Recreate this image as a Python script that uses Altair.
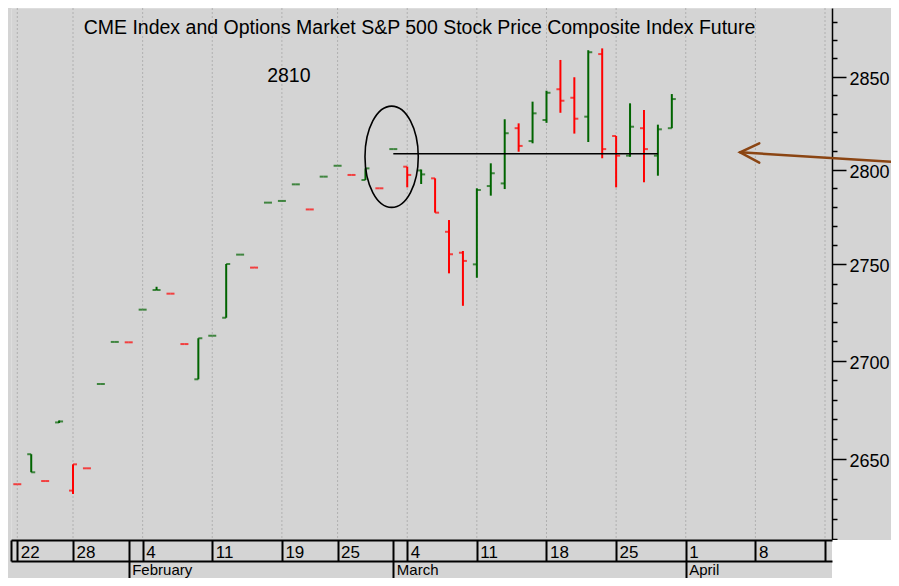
import altair as alt
import pandas as pd

# ---------------- data ----------------
trading_days = [
    "2019-01-22", "2019-01-23", "2019-01-24", "2019-01-25",
    "2019-01-28", "2019-01-29", "2019-01-30", "2019-01-31", "2019-02-01",
    "2019-02-04", "2019-02-05", "2019-02-06", "2019-02-07", "2019-02-08",
    "2019-02-11", "2019-02-12", "2019-02-13", "2019-02-14", "2019-02-15",
    "2019-02-19", "2019-02-20", "2019-02-21", "2019-02-22",
    "2019-02-25", "2019-02-26", "2019-02-27", "2019-02-28", "2019-03-01",
    "2019-03-04", "2019-03-05", "2019-03-06", "2019-03-07", "2019-03-08",
    "2019-03-11", "2019-03-12", "2019-03-13", "2019-03-14", "2019-03-15",
    "2019-03-18", "2019-03-19", "2019-03-20", "2019-03-21", "2019-03-22",
    "2019-03-25", "2019-03-26", "2019-03-27", "2019-03-28", "2019-03-29",
    "2019-04-01", "2019-04-02", "2019-04-03", "2019-04-04", "2019-04-05",
    "2019-04-08", "2019-04-09", "2019-04-10", "2019-04-11", "2019-04-12",
    "2019-04-15",
]

opens = [2637.3, 2652.4, 2638.9, 2668.5, 2634.1, 2645.3, 2688.1, 2709.7, 2709.5, 2726.4,
         2736.6, 2734.7, 2708.6, 2690.5, 2712.9, 2722.2, 2755.1, 2748.3, 2782.5, 2783.4,
         2792.2, 2778.9, 2796.3, 2802.1, 2797.2, 2794.5, 2790.1, 2811.0, 2801.6, 2799.6,
         2795.4, 2767.1, 2756.1, 2750.0, 2791.3, 2792.7, 2822.2, 2815.3, 2826.6, 2843.2,
         2838.6, 2828.4, 2862.3, 2818.0, 2807.5, 2822.2, 2807.5, 2822.2]
highs = [2637.3, 2652.4, 2638.9, 2669.5, 2647.3, 2645.3, 2688.1, 2709.7, 2709.5, 2726.4,
         2738.3, 2734.7, 2708.6, 2711.6, 2712.9, 2750.2, 2755.1, 2748.3, 2782.5, 2783.4,
         2792.2, 2778.9, 2796.3, 2802.1, 2797.2, 2800.7, 2790.1, 2811.0, 2801.6, 2800.1,
         2795.4, 2773.3, 2757.0, 2790.1, 2803.4, 2827.0, 2824.8, 2836.5, 2842.4, 2859.1,
         2849.7, 2864.4, 2865.4, 2818.0, 2835.6, 2832.0, 2824.1, 2840.6]
lows = [2637.3, 2643.3, 2638.9, 2668.2, 2632.4, 2645.3, 2688.1, 2709.7, 2709.5, 2726.4,
        2736.6, 2734.7, 2708.6, 2690.5, 2712.9, 2722.2, 2755.1, 2748.3, 2782.5, 2783.4,
        2792.2, 2778.9, 2796.3, 2802.1, 2797.2, 2794.5, 2790.1, 2811.0, 2790.6, 2792.4,
        2777.2, 2745.3, 2728.4, 2743.0, 2786.2, 2789.7, 2809.6, 2814.1, 2825.1, 2830.5,
        2819.3, 2814.8, 2806.1, 2790.6, 2806.9, 2793.3, 2796.8, 2822.2]
closes = [2637.3, 2643.3, 2638.9, 2669.0, 2647.3, 2645.3, 2688.1, 2709.7, 2709.5, 2726.4,
          2736.6, 2734.7, 2708.6, 2711.6, 2712.9, 2750.2, 2755.1, 2748.3, 2782.5, 2783.4,
          2792.2, 2778.9, 2796.3, 2802.1, 2797.2, 2800.7, 2790.1, 2811.0, 2797.2, 2797.5,
          2777.2, 2755.3, 2751.8, 2789.2, 2798.1, 2819.5, 2812.7, 2830.2, 2841.3, 2837.0,
          2827.3, 2863.3, 2811.0, 2807.5, 2823.0, 2811.0, 2821.6, 2837.9]
directions = ["down", "up", "down", "up", "down", "down", "up", "up", "down", "up",
              "up", "down", "down", "up", "up", "up", "up", "down", "up", "up",
              "up", "down", "up", "up", "down", "up", "down", "up", "down", "up",
              "down", "down", "down", "up", "up", "up", "down", "up", "up", "down",
              "down", "up", "down", "down", "up", "down", "up", "up"]

week_dates = ["2019-01-22", "2019-01-28", "2019-02-04", "2019-02-11", "2019-02-19",
              "2019-02-25", "2019-03-04", "2019-03-11", "2019-03-18", "2019-03-25",
              "2019-04-01", "2019-04-08", "2019-04-15"]
week_labels = ["22", "28", "4", "11", "19", "25", "4", "11", "18", "25", "1", "8", ""]
month_dates = ["2019-02-01", "2019-03-01", "2019-04-01"]
month_labels = ["February", "March", "April"]

title_text = "CME Index and Options Market S&P 500 Stock Price Composite Index Future"
level_value = 2808.5
level_from, level_to = "2019-03-01", "2019-03-28"
level_label = "2810"

y_major = [2650, 2700, 2750, 2800, 2850]
y_minor = [2610, 2620, 2630, 2640, 2660, 2670, 2680, 2690, 2710, 2720, 2730, 2740,
           2760, 2770, 2780, 2790, 2810, 2820, 2830, 2840, 2860, 2870, 2880]

# annotation anchors (trading-day number, price)
title_pos = (28.88, 2873.1)
label_pos = (19.5, 2847.3)
ellipse_pos = (26.88, 2806.9)
arrow_head_x = [53.28, 51.9, 53.28]
arrow_head_y = [2814.1, 2809.3, 2803.8]
arrow_shaft_x = [51.9, 63.6]
arrow_shaft_y = [2809.3, 2803.8]

# ---------------- scales ----------------
X_MIN, X_MAX = -0.4524, 58.502
Y_MIN, Y_MAX = 2609.45, 2887.51
FONT = "Liberation Sans"
BG = "#d4d4d4"

pos = {d: i for i, d in enumerate(trading_days)}


def X(field, axis=None):
    return alt.X(field, type="quantitative",
                 scale=alt.Scale(domain=[X_MIN, X_MAX], nice=False, zero=False), axis=axis)


def Y(field, axis=None):
    return alt.Y(field, type="quantitative",
                 scale=alt.Scale(type="log", domain=[Y_MIN, Y_MAX], nice=False, zero=False),
                 axis=axis)


bars = pd.DataFrame({
    "i": [pos[d] for d in trading_days[:len(opens)]],
    "open": opens, "high": highs, "low": lows, "close": closes, "dir": directions,
})
color = alt.Color("dir:N", scale=alt.Scale(domain=["up", "down"], range=["#006400", "#ff0000"]),
                  legend=None)

week_idx = [pos[d] for d in week_dates]
month_idx = [pos[d] for d in month_dates]
grid_df = pd.DataFrame({"i": week_idx})


def ternary(idxs, labels):
    expr = "''"
    for i, lab in reversed(list(zip(idxs, labels))):
        expr = f"datum.value == {i} ? '{lab}' : ({expr})"
    return expr


day_axis = alt.Axis(orient="bottom", values=[X_MIN] + week_idx + month_idx[:2],
                    labelExpr=ternary(week_idx, week_labels), grid=False, title=None,
                    domain=True, domainColor="black", domainWidth=2,
                    ticks=True, tickColor="black", tickWidth=2, tickSize=21,
                    labelAlign="left", labelBaseline="alphabetic", labelPadding=-4,
                    labelOffset=3, labelFontSize=17, labelColor="black", labelFont=FONT,
                    labelOverlap=False, labelFlush=False, labelBound=False, offset=0, zindex=1)
month_axis = alt.Axis(orient="bottom", values=month_idx,
                      labelExpr=ternary(month_idx, month_labels), grid=False, title=None,
                      domain=True, domainColor="black", domainWidth=2,
                      ticks=True, tickColor="black", tickWidth=2, tickSize=17,
                      labelAlign="left", labelBaseline="alphabetic", labelPadding=-4,
                      labelOffset=3, labelFontSize=15, labelColor="black", labelFont=FONT,
                      labelOverlap=False, labelFlush=False, labelBound=False, offset=21, zindex=1)
y_major_axis = alt.Axis(orient="right", values=y_major, labelExpr="format(datum.value, 'd')",
                        grid=False, title=None, domain=True, domainColor="black", domainWidth=1.5,
                        ticks=True, tickColor="black", tickWidth=1.5, tickSize=14,
                        labelPadding=3, labelFontSize=18, labelColor="black", labelFont=FONT,
                        labelOffset=2.5, labelOverlap=False, labelFlush=False)
y_minor_axis = alt.Axis(orient="right", values=y_minor, grid=False, title=None, domain=False,
                        ticks=True, tickColor="black", tickWidth=1.5, tickSize=5, labels=False)

# ---------------- layers ----------------
corner = alt.Chart(pd.DataFrame({"a": [X_MAX], "b": [X_MAX + 8], "c": [Y_MIN], "d": [Y_MIN * 0.95]})).mark_rect(
    color="white").encode(x=X("a"), x2="b", y=Y("c"), y2="d")

grid = alt.Chart(grid_df).mark_rule(color="#b0b0b0", strokeDash=[2, 2], strokeWidth=1).encode(
    x=X("i", day_axis))

stems = alt.Chart(bars).mark_rule(strokeWidth=2).encode(
    x=X("i", month_axis), y=Y("low", y_major_axis), y2="high", color=color)
open_ticks = alt.Chart(bars).mark_tick(orient="horizontal", size=4, thickness=2, xOffset=-2).encode(
    x=X("i"), y=Y("open", y_minor_axis), color=color)
close_ticks = alt.Chart(bars).mark_tick(orient="horizontal", size=4, thickness=2, xOffset=2).encode(
    x=X("i"), y=Y("close"), color=color)

level = alt.Chart(pd.DataFrame({"a": [pos[level_from]], "b": [pos[level_to]], "y": [level_value]})).mark_rule(
    color="black", strokeWidth=1.6).encode(x=X("a"), x2="b", y=Y("y"))

k = 0.5523
rx = 0.526
ell_path = (f"M {rx},0 C {rx},{k} {rx*k:.4f},1 0,1 C {-rx*k:.4f},1 {-rx},{k} {-rx},0 "
            f"C {-rx},{-k} {-rx*k:.4f},-1 0,-1 C {rx*k:.4f},-1 {rx},{-k} {rx},0 Z")
ellipse = alt.Chart(pd.DataFrame({"x": [ellipse_pos[0]], "y": [ellipse_pos[1]]})).mark_point(
    shape=ell_path, size=10262, filled=False, stroke="black", strokeWidth=1.6, opacity=1).encode(
    x=X("x"), y=Y("y"))

arrow_df = pd.DataFrame({
    "x": arrow_head_x + arrow_shaft_x,
    "y": arrow_head_y + arrow_shaft_y,
    "part": ["head"] * 3 + ["shaft"] * 2,
    "o": [0, 1, 2, 0, 1],
})
arrow = alt.Chart(arrow_df).mark_line(color="#8B4513", strokeWidth=2.5, strokeCap="round").encode(
    x=X("x"), y=Y("y"), detail="part:N", order="o:Q")

texts = alt.Chart(pd.DataFrame({
    "x": [title_pos[0], label_pos[0]], "y": [title_pos[1], label_pos[1]],
    "t": [title_text, level_label]})).mark_text(
    align="center", baseline="alphabetic", font=FONT, color="black", fontSize=19.5).encode(
    x=X("x"), y=Y("y"), text="t:N")

chart = alt.layer(corner, grid, stems, open_ticks, close_ticks, level, ellipse, arrow, texts).resolve_axis(
    x="independent", y="independent").properties(
    width=821, height=532,
    autosize=alt.AutoSizeParams(type="none"),
    padding={"left": 3, "top": 0, "right": 59, "bottom": 38},
    background=BG,
).configure_view(fill=BG, stroke=None).configure(font=FONT)

chart.save("out.html", embed_options={"renderer": "svg", "actions": False})
